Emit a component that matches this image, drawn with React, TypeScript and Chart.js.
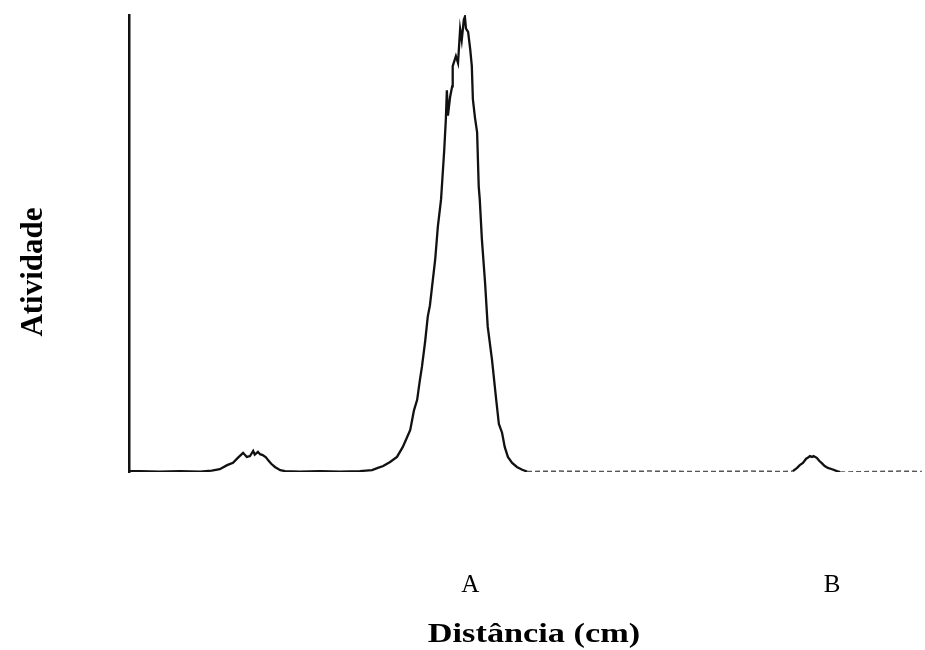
import React, { useEffect, useRef } from "react";
import { Chart, registerables } from "chart.js";

Chart.register(...registerables);

// Scan trace: distance along the strip (cm) and measured activity (relative units)
const DISTANCE_CM = [
  0.0, 0.21, 0.58, 0.96, 1.34, 1.56, 1.71, 1.85, 1.96, 2.05, 2.15, 2.22, 2.28, 2.34,
  2.37, 2.43, 2.47, 2.52, 2.58, 2.62, 2.68, 2.75, 2.85, 2.94, 3.22, 3.6, 3.98, 4.35,
  4.58, 4.69, 4.79, 4.92, 5.05, 5.16, 5.24, 5.3, 5.37, 5.43, 5.48, 5.52, 5.58, 5.63,
  5.67, 5.73, 5.77, 5.82, 5.88, 5.94, 5.97, 5.99, 6.01, 6.05, 6.09, 6.1, 6.16, 6.2,
  6.24, 6.27, 6.31, 6.33, 6.35, 6.39, 6.43, 6.46, 6.48, 6.52, 6.56, 6.59, 6.61, 6.65,
  6.71, 6.76, 6.84, 6.92, 6.97, 7.03, 7.08, 7.14, 7.22, 7.31, 7.41, 7.5, 8.12, 8.88,
  9.82, 10.76, 11.7, 12.36, 12.51, 12.59, 12.64, 12.7, 12.76, 12.79, 12.83, 12.87,
  12.9, 12.96, 13.01, 13.05, 13.11, 13.17, 13.25, 13.34, 13.4, 13.96, 14.53, 14.94,
];

const ACTIVITY = [
  0.2, 0.2, 0.1, 0.2, 0.1, 0.3, 0.6, 1.5, 2.0, 3.1, 4.2, 3.3, 3.5, 4.6,
  3.8, 4.4, 3.9, 3.7, 3.2, 2.6, 1.8, 1.1, 0.4, 0.2, 0.1, 0.2, 0.1, 0.2,
  0.4, 0.9, 1.3, 2.2, 3.3, 5.5, 7.6, 9.2, 13.5, 15.8, 20.0, 23.0, 28.5, 34.0,
  36.4, 42.5, 46.5, 53.7, 59.6, 70.4, 77.0, 83.5, 78.0, 82.0, 84.4, 88.8, 91.0, 89.5,
  96.9, 94.5, 99.0, 99.6, 97.0, 96.3, 92.5, 88.8, 81.6, 77.5, 74.3, 62.5, 59.6, 50.9,
  41.4, 31.8, 24.6, 15.8, 10.5, 8.6, 5.5, 3.3, 2.0, 1.1, 0.5, 0.1, 0.2, 0.1,
  0.2, 0.1, 0.2, 0.1, 0.2, 0.9, 1.5, 2.0, 2.9, 3.1, 3.5, 3.3,
  3.5, 3.1, 2.4, 2.0, 1.3, 0.9, 0.6, 0.2, 0.0, 0.1, 0.2, 0.1,
];

// Peak labels shown under the axis
const PEAK_LABELS = ["A", "B"];
const PEAK_LABEL_POS_CM = [6.43, 13.25];

const X_TITLE = "Distância (cm)";
const Y_TITLE = "Atividade";

const FONT = '"Liberation Serif", "Times New Roman", serif';

// Portions of the baseline that the scanner printed as a faint dotted trace
const isFaintSegment = (c: any) => {
  const a = c.p0.parsed.x;
  const b = c.p1.parsed.x;
  return a >= 7.5 && !(a >= 12.5 && b <= 13.4);
};

const captionPlugin = {
  id: "captions",
  afterDraw(chart: any) {
    const { ctx } = chart;
    ctx.save();
    ctx.fillStyle = "#000";
    ctx.font = `bold 27px ${FONT}`;
    ctx.textAlign = "center";
    ctx.textBaseline = "alphabetic";
    ctx.translate(534, 642);
    ctx.scale(1.27, 1);
    ctx.fillText(X_TITLE, 0, 0);
    ctx.restore();

    ctx.save();
    ctx.fillStyle = "#000";
    ctx.font = `bold 31px ${FONT}`;
    ctx.textAlign = "center";
    ctx.textBaseline = "alphabetic";
    ctx.translate(42, 272);
    ctx.rotate(-Math.PI / 2);
    ctx.fillText(Y_TITLE, 0, 0);
    ctx.restore();
  },
};

export default function App() {
  const canvasRef = useRef<HTMLCanvasElement | null>(null);

  useEffect(() => {
    if (!canvasRef.current) return;
    const points = DISTANCE_CM.map((x, i) => ({ x, y: ACTIVITY[i] }));

    const chart = new Chart(canvasRef.current, {
      type: "line",
      data: {
        datasets: [
          {
            data: points,
            borderColor: "#111",
            borderWidth: 2.3,
            pointRadius: 0,
            tension: 0,
            fill: false,
            segment: {
              borderDash: (c: any) => (isFaintSegment(c) ? [5, 3] : undefined),
              borderColor: (c: any) => (isFaintSegment(c) ? "#555" : undefined),
              borderWidth: (c: any) => (isFaintSegment(c) ? 1.5 : undefined),
            },
          },
        ],
      },
      options: {
        animation: false,
        responsive: true,
        maintainAspectRatio: false,
        layout: { padding: { top: 15, right: 0, bottom: 0, left: 0 } },
        plugins: {
          legend: { display: false },
          tooltip: { enabled: false },
        },
        scales: {
          x: {
            type: "linear",
            min: 0,
            max: 15,
            grid: { display: false, drawTicks: false },
            border: { display: false },
            afterBuildTicks: (scale: any) => {
              scale.ticks = PEAK_LABEL_POS_CM.map((value) => ({ value }));
            },
            afterFit: (scale: any) => {
              scale.height = 178;
              scale.paddingLeft = 0;
              scale.paddingRight = 0;
            },
            ticks: {
              autoSkip: false,
              maxRotation: 0,
              padding: 98,
              color: "#000",
              font: { family: FONT, size: 25 },
              callback: (value: any) => {
                const idx = PEAK_LABEL_POS_CM.indexOf(Number(value));
                return idx >= 0 ? PEAK_LABELS[idx] : "";
              },
            },
          },
          y: {
            min: 0,
            max: 100,
            grid: { display: false, drawTicks: false },
            border: { display: true, color: "#111", width: 2.5 },
            ticks: { display: false },
            afterFit: (scale: any) => {
              scale.width = 129;
            },
          },
        },
      },
      plugins: [captionPlugin],
    });

    return () => chart.destroy();
  }, []);

  return (
    <div
      style={{
        position: "fixed",
        left: 0,
        top: 0,
        width: 925,
        height: 650,
        background: "#fff",
      }}
    >
      <canvas ref={canvasRef} />
    </div>
  );
}
